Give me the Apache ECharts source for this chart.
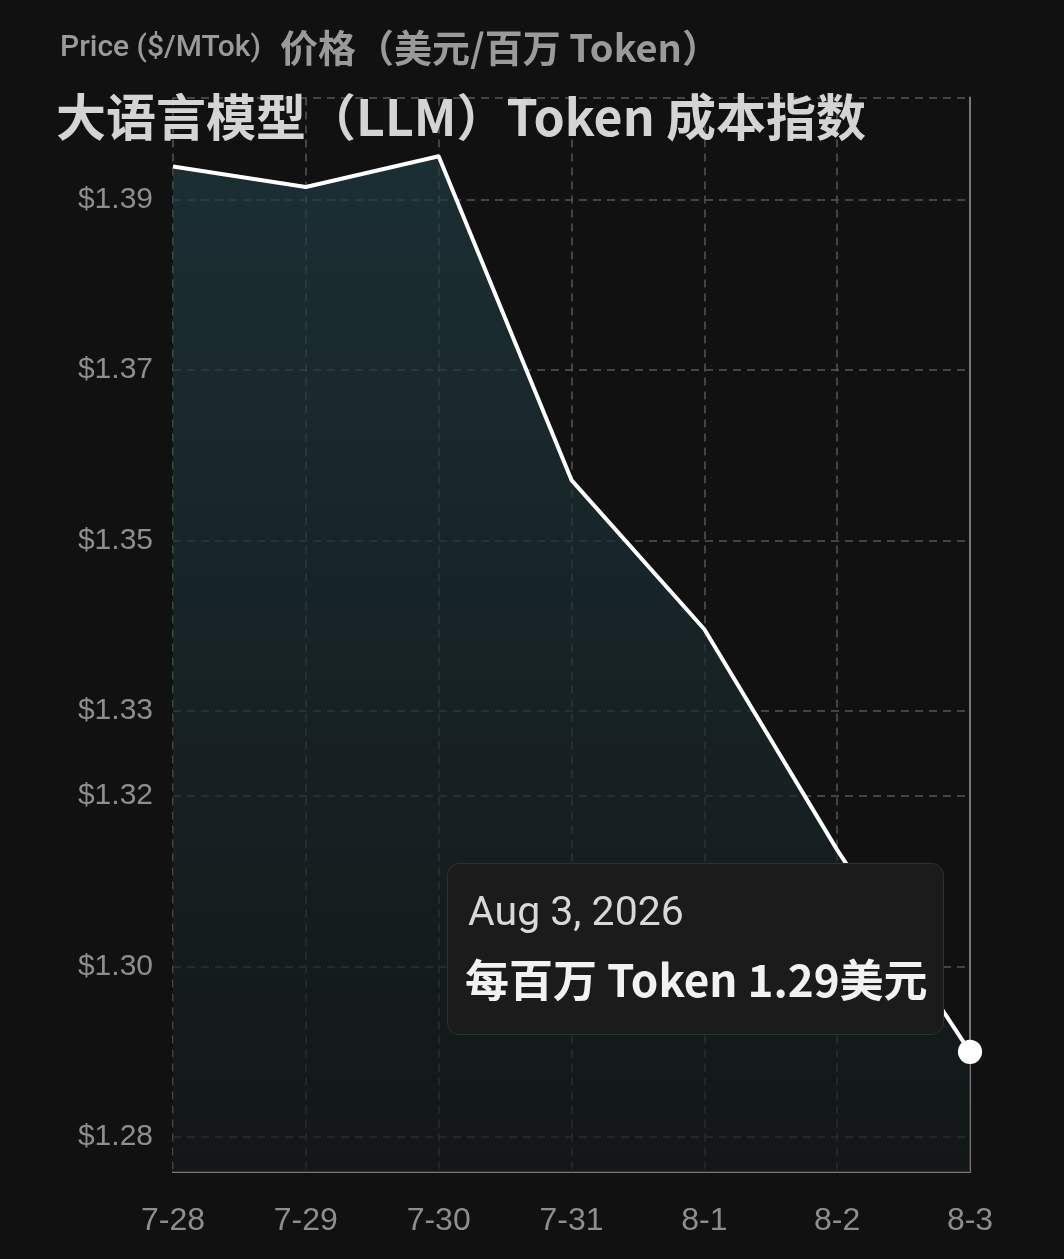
<!DOCTYPE html>
<html>
<head>
<meta charset="utf-8">
<script src="https://cdn.jsdelivr.net/npm/echarts@6/dist/echarts.min.js"></script>
<style>
html,body{margin:0;padding:0;background:#111111;}
#c{width:1064px;height:1259px;}
</style>
</head>
<body>
<div id="c"></div>
<script>
const categories = ['7-28', '7-29', '7-30', '7-31', '8-1', '8-2', '8-3'];
const fullDates = ['Jul 28, 2026', 'Jul 29, 2026', 'Jul 30, 2026', 'Jul 31, 2026', 'Aug 1, 2026', 'Aug 2, 2026', 'Aug 3, 2026'];
const prices = [1.3939, 1.3915, 1.3951, 1.3571, 1.3396, 1.3137, 1.29];
const yTickValues = [1.28, 1.30, 1.32, 1.33, 1.35, 1.37, 1.39];
const yMin = 1.2759;
const yMax = 1.4020;
const axisTitle = 'Price ($/MTok)';
const axisTitleZh = '价格（美元/百万 Token）';
const chartTitle = '大语言模型（LLM）Token 成本指数';

const chart = echarts.init(document.getElementById('c'), null, {renderer: 'canvas'});
const lastIdx = prices.length - 1;
const gridLine = {show: true, lineStyle: {color: '#555555', width: 1.5, type: [8, 6]}};

chart.setOption({
  backgroundColor: '#111111',
  animation: false,
  title: [
    {
      text: '{a|' + axisTitle + '}{s|}{b|' + axisTitleZh + '}',
      left: 60, top: 27, padding: 0,
      textStyle: {
        rich: {
          a: {fontFamily: 'Roboto, "Liberation Sans", sans-serif', fontSize: 30, fontWeight: 500, color: '#9a9a9a', lineHeight: 42},
          s: {width: 19, lineHeight: 42},
          b: {fontFamily: '"Noto Sans CJK SC", sans-serif', fontSize: 38, fontWeight: 'bold', color: '#9a9a9a', lineHeight: 42}
        }
      }
    },
    {
      text: chartTitle,
      left: 56, top: 89, padding: 0,
      textStyle: {fontFamily: '"Noto Sans CJK SC", sans-serif', fontSize: 50, fontWeight: 'bold', color: '#d4d4d4', lineHeight: 56}
    }
  ],
  grid: {left: 173, right: 94, top: 97.5, bottom: 87, containLabel: false, outerBoundsMode: 'none'},
  xAxis: {
    type: 'category',
    data: categories,
    boundaryGap: false,
    axisLine: {show: true, lineStyle: {color: '#777777', width: 2}},
    axisTick: {show: false},
    axisLabel: {color: '#8e8e8e', fontSize: 32, fontFamily: '"Liberation Sans", Arial, sans-serif', margin: 33},
    splitLine: gridLine
  },
  yAxis: [
    {
      type: 'value',
      min: yMin,
      max: yMax,
      axisLine: {show: false},
      axisTick: {show: false, customValues: yTickValues.concat([yMax])},
      axisLabel: {
        customValues: yTickValues,
        color: '#8e8e8e', fontSize: 30, fontFamily: '"Liberation Sans", Arial, sans-serif', margin: 20,
        formatter: v => '$' + v.toFixed(2)
      },
      splitLine: gridLine
    },
    {
      type: 'value',
      position: 'right',
      min: yMin,
      max: yMax,
      axisLine: {show: true, lineStyle: {color: '#777777', width: 2}},
      axisTick: {show: false},
      axisLabel: {show: false},
      splitLine: {show: false}
    }
  ],
  tooltip: {
    trigger: 'axis',
    axisPointer: {type: 'none'},
    alwaysShowContent: true,
    transitionDuration: 0,
    showDelay: 0,
    backgroundColor: '#1b1b1b',
    borderColor: '#303030',
    borderWidth: 1.5,
    padding: 0,
    extraCssText: 'box-shadow:none;border-radius:12px;width:497px;height:172px;box-sizing:border-box;',
    position: function () { return [447, 863]; },
    formatter: function (params) {
      const i = params[0].dataIndex;
      return '<div style="padding:24px 0 0 17px;">' +
        '<div style="font-family:Roboto,\'Liberation Sans\',sans-serif;font-size:41px;color:#d8d8d8;line-height:46px;padding-left:3px;">' + fullDates[i] + '</div>' +
        '<div style="font-family:\'Noto Sans CJK SC\',sans-serif;font-size:44px;font-weight:bold;color:#f2f2f2;line-height:64px;margin-top:12px;">每百万 Token ' + prices[i].toFixed(2) + '美元</div>' +
        '</div>';
    }
  },
  series: [{
    type: 'line',
    data: prices,
    symbol: 'circle',
    showSymbol: true,
    symbolSize: function (v, p) { return p.dataIndex === lastIdx ? 22 : 0; },
    itemStyle: {color: '#ffffff'},
    lineStyle: {color: '#ffffff', width: 4},
    areaStyle: {
      color: new echarts.graphic.LinearGradient(0, 0, 0, 1, [
        {offset: 0, color: '#1d363c'},
        {offset: 1, color: '#131718'}
      ])
    },
    z: 3
  }]
});

chart.dispatchAction({type: 'showTip', seriesIndex: 0, dataIndex: lastIdx});
</script>
</body>
</html>
